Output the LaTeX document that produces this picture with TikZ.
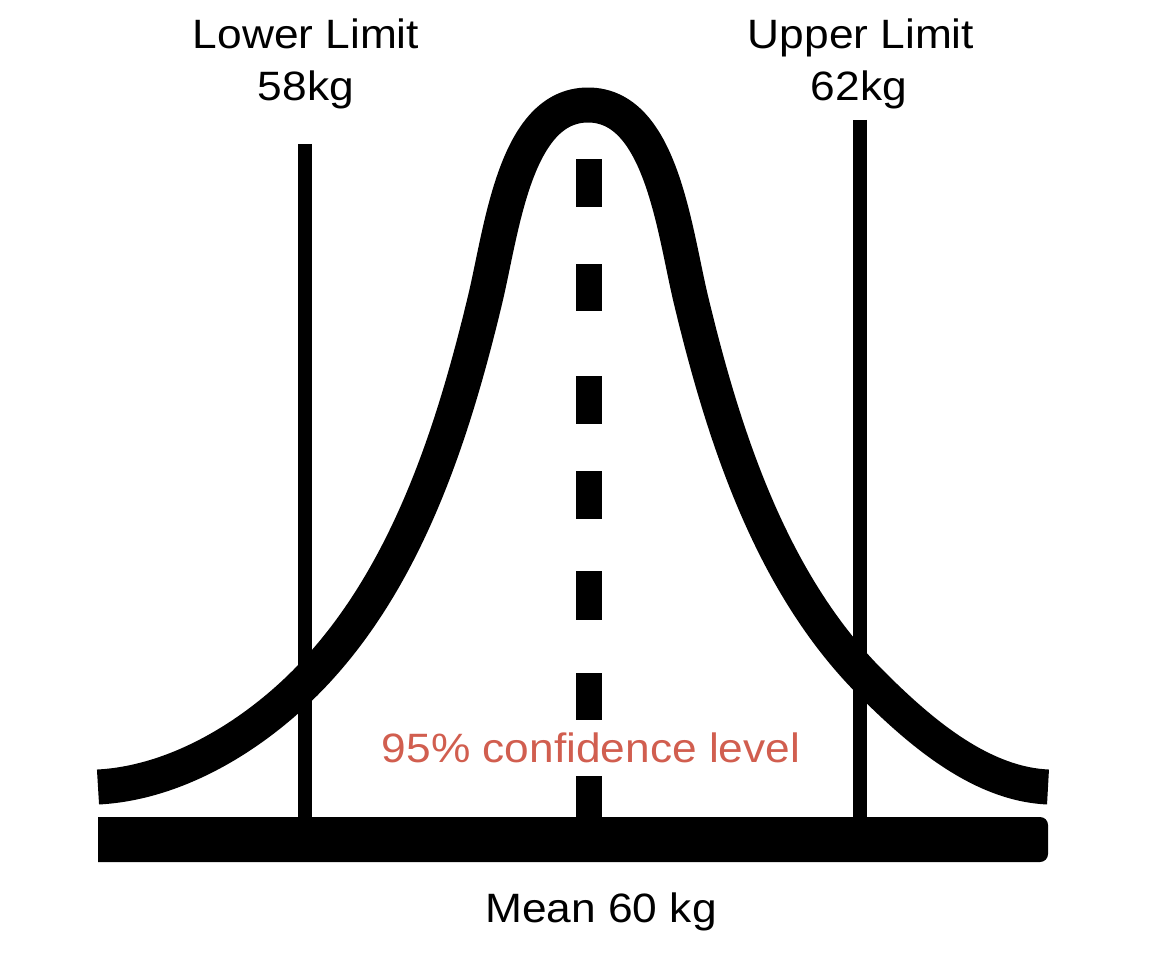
\documentclass[tikz,border=0pt]{standalone}
\usepackage{fontspec}
\setmainfont[FakeStretch=1.08]{Liberation Sans}
\definecolor{confred}{RGB}{209,94,79}
\begin{document}
\begin{tikzpicture}[x=0.5pt,y=-0.5pt,
  txt/.style={font=\fontsize{20.5pt}{24pt}\selectfont, anchor=base, inner sep=0pt},
  bell/.style={line width=17.5pt, line cap=butt, line join=round},
  limitline/.style={line width=7pt},
  meandash/.style={fill=black}]
\useasboundingbox (0,0) rectangle (1168,963);

% baseline bar
\fill (98,817) -- (1000,817) [rounded corners=4pt] -- (1048,817) -- (1048,862) -- (1000,862) [sharp corners] -- (98,862) -- cycle;

% limit lines
\coordinate (lowtop) at (305,144);
\coordinate (lowbot) at (305,818);
\coordinate (uptop) at (860,120);
\coordinate (upbot) at (860,818);
\draw[limitline] (lowtop) -- (lowbot);
\draw[limitline] (uptop) -- (upbot);

% mean dashes
\foreach \a/\b in {159/207,264/311,376/424,471/519,571/620,673/720,776/818}
  \fill[meandash] (576,\a) rectangle (602,\b);

% bell curve
\coordinate (bl) at (98,787);
\coordinate (bq) at (305,683);
\coordinate (bi) at (485,300);
\coordinate (bp) at (588,105);
\coordinate (bj) at (691,300);
\coordinate (br) at (871,683);
\coordinate (be) at (1048,787);
\draw[bell] (bl) .. controls (175,783) and (250.5,737.5) .. (bq)
  .. controls (404.7,583.3) and (452.1,437) .. (bi)
  .. controls (502,229) and (515,105) .. (bp)
  .. controls (661,105) and (674,229) .. (bj)
  .. controls (723.9,437) and (771.3,583.3) .. (br)
  .. controls (919,731) and (980,784) .. (be);

% labels
\node[txt] (lowlbl) at (306,49) {Lower Limit};
\node[txt] (lowval) at (306,101) {58kg};
\node[txt] (uplbl) at (861,49) {Upper Limit};
\node[txt] (upval) at (859,101) {62kg};
\node[txt, text=confred] (conf) at (591,762) {95\% confidence level};
\node[txt] (mean) at (601,922) {Mean 60 kg};
\end{tikzpicture}
\end{document}
